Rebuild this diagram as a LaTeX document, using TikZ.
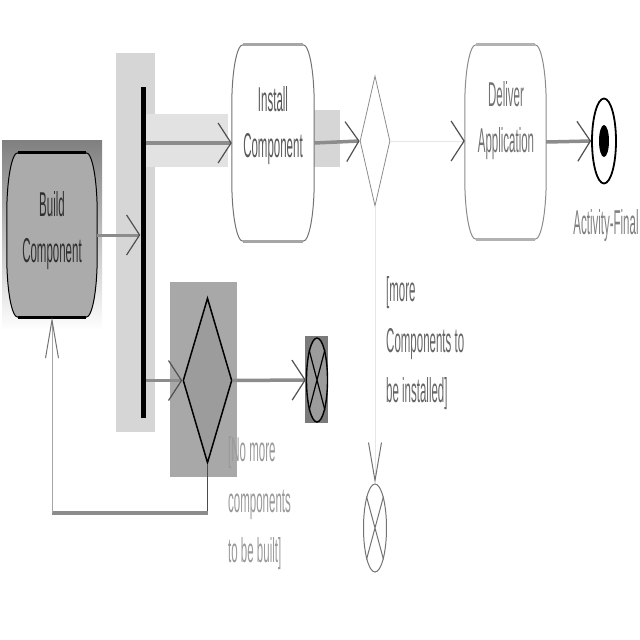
\documentclass[tikz,border=0pt]{standalone}
\usepackage{fontspec}
\setmainfont{Liberation Sans}
\usepackage{graphicx}
\usepackage{xcolor}
\definecolor{ink}{HTML}{303030}
\definecolor{flowgray}{HTML}{8C8C8C}
\definecolor{tipgray}{HTML}{505050}
\definecolor{faint}{HTML}{E6E6E6}
\definecolor{shade}{HTML}{BDBDBD}
\definecolor{hilite}{HTML}{D6D6D6}
\definecolor{band}{HTML}{E2E2E2}
\definecolor{darkshade}{HTML}{A8A8A8}
\definecolor{buildfill}{HTML}{ABABAB}
\definecolor{mergefill}{HTML}{9C9C9C}
\definecolor{endshade}{HTML}{7A7A7A}
\usepackage{tikz}
\usetikzlibrary{arrows.meta,positioning,calc,shapes.geometric,backgrounds}
\tikzset{
  actbox/.style  ={rectangle,inner sep=0pt},
  actlbl/.style  ={font=\fontsize{11.5}{15.5}\selectfont,inner sep=0pt,align=center},
  guardlbl/.style={font=\fontsize{11.5}{16.7}\selectfont,inner sep=0pt,anchor=west},
  barnode/.style ={rectangle,fill=black,inner sep=0pt,minimum width=5pt},
  choice/.style  ={diamond,inner sep=0pt},
  endnode/.style ={ellipse,inner sep=0pt},
  htip/.style    ={-{Straight Barb[length=13pt,width=40pt,line width=1.2pt,color=tipgray]}},
  vtip/.style    ={-{Straight Barb[length=38pt,width=13pt,line width=1pt,color=tipgray!80]}},
  flow/.style    ={htip,draw=flowgray,line width=3.5pt},
  thinflow/.style={htip,draw=faint,line width=1pt},
}
\newcommand{\tallbox}[2][c]{\scalebox{1}[3]{\begin{tabular}{@{}#1@{}}#2\end{tabular}}}
% action outline with flattened ends
\newcommand{\actshape}[4]{%
  \begin{scope}[on background layer]
  \path[fill=#2,draw=#3,line width=1pt]
    ([yshift=-60pt]#1.north west) arc[start angle=180,end angle=90,x radius=11pt,y radius=60pt]
    -- ([xshift=-11pt]#1.north east) arc[start angle=90,end angle=0,x radius=11pt,y radius=60pt]
    -- ([yshift=60pt]#1.south east) arc[start angle=0,end angle=-90,x radius=11pt,y radius=60pt]
    -- ([xshift=11pt]#1.south west) arc[start angle=270,end angle=180,x radius=11pt,y radius=60pt]
    -- cycle;
  \draw[#4,line width=3pt] ([xshift=11pt]#1.north west) -- ([xshift=-11pt]#1.north east);
  \draw[#4,line width=3pt] ([xshift=11pt]#1.south west) -- ([xshift=-11pt]#1.south east);
  \end{scope}}

\begin{document}
\begin{tikzpicture}[x=1pt,y=1pt]
\useasboundingbox (0,0) rectangle (640,-640);
% highlights
\begin{scope}[on background layer]
\fill[shade] (2,-140) rectangle (102,-330);
\fill[hilite] (116,-53) rectangle (155,-432);
\fill[band] (146,-114) rectangle (228,-167);
\fill[hilite] (314,-110) rectangle (340,-167);
\fill[darkshade] (170,-282) rectangle (237,-477);
\fill[endshade] (305,-336) rectangle (328,-423);
\end{scope}
% actions
\node[actbox,minimum width=90pt,minimum height=164pt] (build) at (52,-235) {};
\actshape{build}{buildfill}{black}{black}
\node[actlbl,text=ink] at (52,-230) {\tallbox{Build\\Component}};
\node[actbox,minimum width=82pt,minimum height=196pt] (install) at (273,-143) {};
\actshape{install}{white}{black!55}{black!35}
\node[actlbl,text=black!65] at (273,-125) {\tallbox{Install\\Component}};
\node[actbox,minimum width=81pt,minimum height=194pt] (deliver) at (505.5,-142) {};
\actshape{deliver}{white}{black!45}{black!30}
\node[actlbl,text=black!55] at (506,-120) {\tallbox{Deliver\\Application}};
% fork and decisions
\node[barnode,minimum height=331pt] (fork) at (143,-252.5) {};
\node[choice,draw=black!45,line width=0.8pt,fill=white,minimum width=30pt,minimum height=130pt] (dec) at (375,-141) {};
\node[choice,draw=black,line width=1.5pt,fill=mergefill,minimum width=49pt,minimum height=165pt] (merge) at (207.5,-380.5) {};
% final nodes
\node[endnode,draw=black,line width=1.8pt,fill=white,minimum width=24pt,minimum height=85pt] (final) at (604,-141) {};
\fill[black] (final.center) ellipse [x radius=5pt,y radius=16pt];
\node[actlbl,text=black!50] at (606,-225) {\tallbox{Activity-Final}};
\node[endnode,draw=black,line width=1.4pt,fill=mergefill,minimum width=21pt,minimum height=84pt] (flowend) at (317,-380) {};
\draw[black,line width=1.2pt] (flowend.north east) -- (flowend.south west) (flowend.north west) -- (flowend.south east);
\node[endnode,draw=black!55,line width=1pt,fill=white,minimum width=23pt,minimum height=88pt] (doneend) at (375,-528) {};
\draw[black!55,line width=1pt] (doneend.north east) -- (doneend.south west) (doneend.north west) -- (doneend.south east);
% guards
\node[guardlbl,text=black!60] at (386,-342) {\tallbox[l]{[more\\Components to\\be installed]}};
\node[guardlbl,text=black!40] at (228,-502) {\tallbox[l]{[No more\\components\\to be built]}};
% flows
\draw[flow,line width=3pt] (build.east) -- (fork.west |- build.east);
\draw[flow] (fork.east |- install.west) -- (install.west);
\draw[flow] (install.east) -- (dec.west);
\draw[thinflow] (dec.east) -- (deliver.west |- dec.east);
\draw[flow] (deliver.east) -- (final.west);
\draw[flow] (fork.east |- merge.west) -- (merge.west);
\draw[flow] (merge.east) -- (flowend.west);
\draw[faint,line width=1pt,vtip] (dec.south) -- (doneend.north);
\coordinate (loopy) at (0,-513);
\draw[black!70,line width=1pt] (merge.south) -- (merge.south |- loopy);
\draw[flowgray,line width=3.5pt] (merge.south |- loopy) -- (build.south |- loopy);
\draw[black!35,line width=1pt,vtip] (build.south |- loopy) -- (build.south);
\end{tikzpicture}
\end{document}
